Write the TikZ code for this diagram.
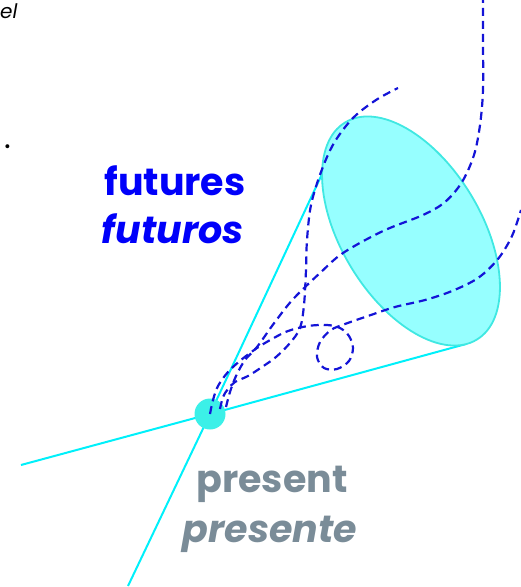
\documentclass[tikz,border=0pt]{standalone}
\usepackage{fontspec}
\setmainfont{Poppins}
\definecolor{futblue}{RGB}{0,0,250}
\definecolor{lineblue}{RGB}{20,20,215}
\definecolor{nowgray}{RGB}{122,140,152}
\definecolor{raycyan}{RGB}{0,240,250}
\definecolor{conefill}{RGB}{150,255,255}
\definecolor{coneedge}{RGB}{64,232,226}
\definecolor{nowturq}{RGB}{60,240,232}
\usetikzlibrary{shapes.geometric,backgrounds}

\begin{document}
\begin{tikzpicture}[x=1pt, y=-1pt,
    conenode/.style={ellipse, draw=coneedge, line width=1.8pt, fill=conefill,
      minimum width=254pt, minimum height=140pt, inner sep=0pt, rotate=-58.8},
    nowdot/.style={circle, fill=nowturq, minimum size=31pt, inner sep=0pt},
    ray/.style={raycyan, line width=2pt},
    worldline/.style={lineblue, line width=2.2pt, dash pattern=on 8pt off 5pt},
    futlabel/.style={font=\fontsize{38}{46}\selectfont\bfseries, text=futblue, inner sep=0pt, anchor=base},
    nowlabel/.style={font=\fontsize{38}{46}\selectfont\bfseries, text=nowgray, inner sep=0pt, anchor=base}
  ]
    \useasboundingbox (0,0) rectangle (520,587);

    % Small text at the left edge
    \node[font=\fontsize{20}{24}\selectfont\itshape, anchor=base west, inner sep=0pt] (elfrag) at (0,18) {el};
    \node[font=\fontsize{32}{36}\selectfont, anchor=base east, inner sep=0pt] (dotfrag) at (11,148) {.};

    % Cone of futures and the present
    \node[conenode] (fut) at (411,231) {};
    \node[nowdot] (now) at (210,414) {};

    % Cone edges
    \coordinate (w) at (21,465);
    \coordinate (s) at (128,586);
    \coordinate (t1) at (323,172);
    \coordinate (t2) at (466,344);
    \begin{scope}[on background layer]
      \draw[ray] (w) -- (now.center) -- (t2);
      \draw[ray] (s) -- (now.center) -- (t1);
    \end{scope}

    % Possible futures
    \coordinate (up) at (483,-4);
    \coordinate (tip) at (398,88);
    \coordinate (side) at (521,210);
    \draw[worldline] plot[smooth, tension=0.55] coordinates {([shift={(16,-7)}]now.center) (230,392) (236,376) (245,360)
      (257,347) (272,326) (288,305) (300,292) (320,273) (343,253) (383,231) (423,215) (445,202) (462,182)
      (474,155) (480,125) (483,90) (483,40) (up)};
    \draw[worldline] plot[smooth, tension=0.55] coordinates {([shift={(10,-5)}]now.center) (223,397) (228,389) (235,382)
      (248,376) (262,367) (276,357) (290,343) (300,328) (304,305) (306,270) (307,240) (311,205) (321,172)
      (334,143) (353,118) (376,100) (tip)};
    \draw[worldline] plot[smooth, tension=0.55] coordinates {(now.center) (213,400) (218,386) (228,372) (241,360)
      (257,348) (272,339) (288,331) (308,326) (327,325) (340,328) (349,336) (353,348) (349,361) (337,369)
      (324,368) (317,357) (320,342) (331,330) (345,324) (368,316) (395,307) (425,300) (452,291) (478,278)
      (498,259) (512,236) (side)};

    % Labels
    \node[futlabel] (futen) at (175,195) {futures};
    \node[futlabel, font=\fontsize{38}{46}\selectfont\bfseries\itshape] (futes) at (173,243) {futuros};
    \node[nowlabel] (nowen) at (272,492) {present};
    \node[nowlabel, font=\fontsize{38}{46}\selectfont\bfseries\itshape] (nowes) at (270,542) {presente};
  \end{tikzpicture}
\end{document}
